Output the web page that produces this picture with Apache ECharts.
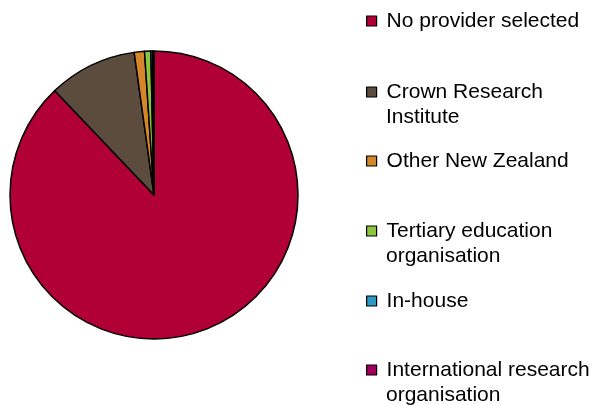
<!DOCTYPE html>
<html>
<head>
<meta charset="utf-8">
<script src="https://cdn.jsdelivr.net/npm/echarts@6/dist/echarts.min.js"></script>
<style>
  html, body { margin: 0; padding: 0; background: #fff; }
  #chart { width: 593px; height: 405px; }
</style>
</head>
<body>
<div id="chart"></div>
<script>
// categories and share of projects (%)
const categories = [
  'No provider selected',
  'Crown Research Institute',
  'Other New Zealand',
  'Tertiary education organisation',
  'In-house',
  'International research organisation'
]
const values = [87.9, 9.9, 1.15, 0.7, 0.2, 0.15]
// how the legend wraps each name
const legendLines = [
  ['No provider selected'],
  ['Crown Research', 'Institute'],
  ['Other New Zealand'],
  ['Tertiary education', 'organisation'],
  ['In-house'],
  ['International research', 'organisation']
]
const colors = ['#b00035', '#5b4c3e', '#d5862b', '#8cc63e', '#2b9ac6', '#a3005e']

// vertical centre of the first legend line of each item
const legendCenters = [21, 92, 161, 231, 301, 370]
const lineH = 25

const chart = echarts.init(document.getElementById('chart'))

const legends = []
categories.forEach((name, i) => {
  legendLines[i].forEach((txt, j) => {
    legends.push({
      left: 366,
      top: legendCenters[i] + j * lineH - lineH / 2,
      padding: 0,
      orient: 'vertical',
      icon: j === 0 ? 'rect' : 'none',
      itemWidth: 10,
      itemHeight: 10,
      selectedMode: false,
      itemStyle: { borderColor: '#000', borderWidth: 1.2 },
      textStyle: {
        fontFamily: 'Liberation Sans, Arial, sans-serif',
        fontSize: 21,
        color: '#000',
        lineHeight: lineH,
        padding: [0, 0, 0, 5]
      },
      formatter: () => txt,
      data: [name]
    })
  })
})

chart.setOption({
  animation: false,
  legend: legends,
  series: [
    {
      type: 'pie',
      center: [154, 195],
      radius: 144,
      startAngle: 90,
      clockwise: true,
      label: { show: false },
      labelLine: { show: false },
      emphasis: { disabled: true },
      itemStyle: { borderColor: '#000', borderWidth: 1.5 },
      data: categories.map((name, i) => ({
        name: name,
        value: values[i],
        itemStyle: { color: colors[i] }
      }))
    }
  ]
})
</script>
</body>
</html>
